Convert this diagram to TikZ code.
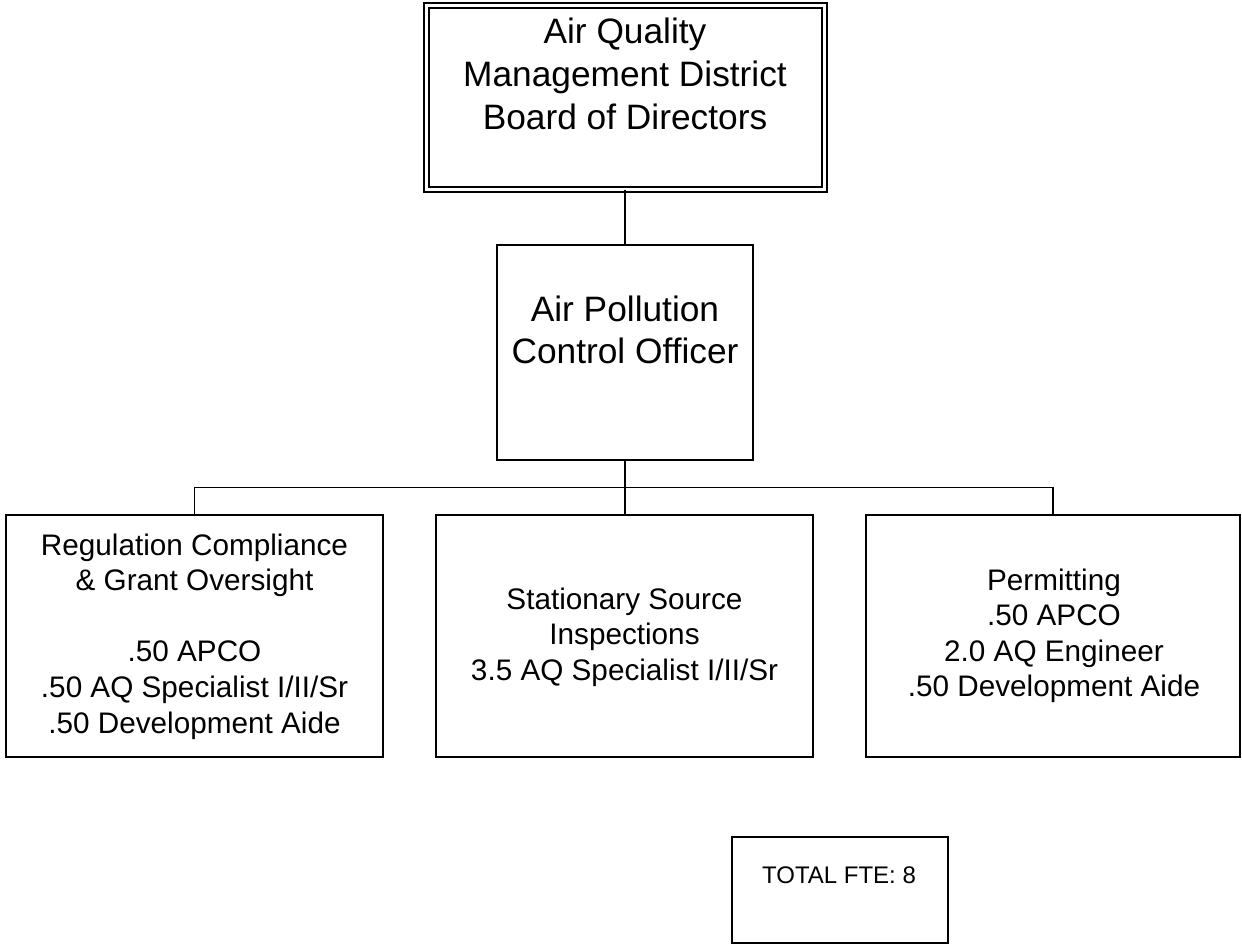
\documentclass[tikz,border=0pt]{standalone}
\usepackage{fontspec}
\setmainfont{Liberation Sans}
\newcommand{\boxtext}[3]{{\fontsize{#1}{#2}\selectfont\begin{tabular}[t]{@{}c@{}}#3\end{tabular}}}
\begin{document}
\begin{tikzpicture}[x=1pt,y=-1pt,
  orgbox/.style={draw,line width=2pt,inner sep=0pt},
  txt/.style={anchor=base,inner sep=0pt},
  link/.style={line width=1.6pt}]
\useasboundingbox (0,0) rectangle (1242,944);
% boxes
\node[orgbox,double,double distance=3pt,minimum width=398pt,minimum height=184pt] (board) at (625,97.5) {};
\node[orgbox,minimum width=256pt,minimum height=215pt] (apco) at (625,352.5) {};
\node[orgbox,minimum width=377pt,minimum height=242pt] (reg) at (194.5,635.5) {};
\node[orgbox,minimum width=377pt,minimum height=242pt] (insp) at (624.5,635.5) {};
\node[orgbox,minimum width=374pt,minimum height=242pt] (perm) at (1053,635.5) {};
\node[orgbox,minimum width=216pt,minimum height=106pt] (total) at (840,890) {};
% texts
\node[txt] (boardtxt) at (625,44) {\boxtext{35.3}{43}{Air Quality\\Management District\\Board of Directors}};
\node[txt] (apcotxt) at (625,321) {\boxtext{35.3}{42}{Air Pollution\\Control Officer}};
\node[txt] (regtxt) at (194.5,555) {\boxtext{29.7}{35.6}{Regulation Compliance\\\& Grant Oversight\\ \\.50 APCO\\.50 AQ Specialist I/II/Sr\\.50 Development Aide}};
\node[txt] (insptxt) at (624.5,609) {\boxtext{29.7}{35.6}{Stationary Source\\Inspections\\3.5 AQ Specialist I/II/Sr}};
\node[txt] (permtxt) at (1054,590) {\boxtext{29.7}{35.6}{Permitting\\.50 APCO\\2.0 AQ Engineer\\.50 Development Aide}};
\node[txt] (totaltxt) at (839,883) {\boxtext{24}{28}{TOTAL FTE: 8}};
% connectors
\coordinate (bus) at (625,487.5);
\draw[link] (board.south) -- (apco.north);
\draw[line width=2.4pt] (apco.south) -- (bus);
\draw[link] (bus) -- (insp.north -| bus);
\draw[link] (reg.north) |- (bus) -| (perm.north);
\end{tikzpicture}
\end{document}
